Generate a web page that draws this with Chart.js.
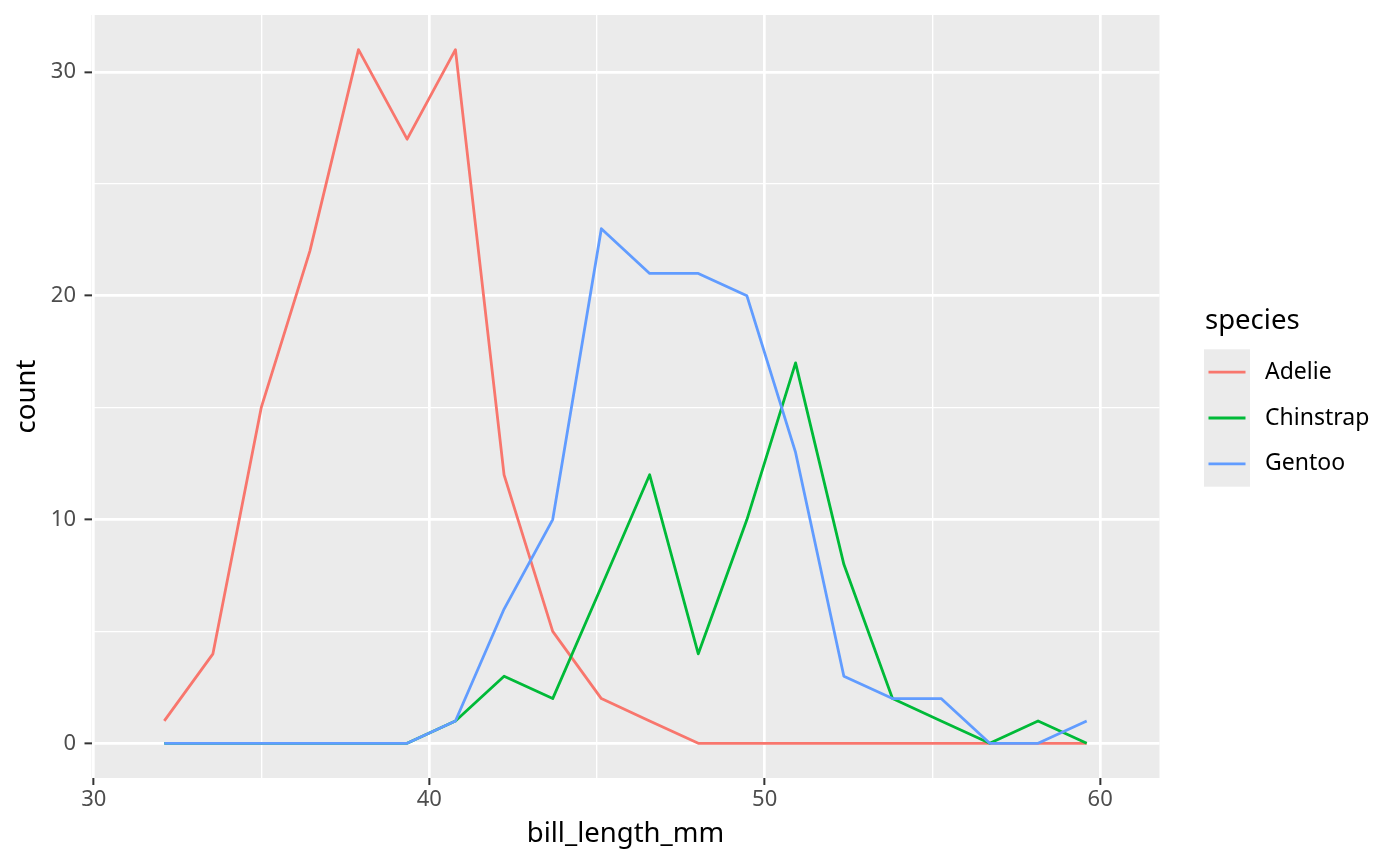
<!DOCTYPE html>
<html>
<head>
<meta charset="utf-8">
<script src="https://cdn.jsdelivr.net/npm/chart.js@4"></script>
<style>
  html, body { margin: 0; padding: 0; background: #ffffff; }
  canvas { display: block; }
</style>
</head>
<body>
<canvas id="chart" width="1400" height="866"></canvas>
<script>
// bin centres (bill_length_mm) and counts per species
const binCenters = [32.1, 33.55, 34.99, 36.44, 37.89, 39.34, 40.78, 42.23, 43.68, 45.13,
                    46.57, 48.02, 49.47, 50.92, 52.36, 53.81, 55.26, 56.71, 58.15, 59.6];
const adelie    = [1, 4, 15, 22, 31, 27, 31, 12, 5, 2, 1, 0, 0, 0, 0, 0, 0, 0, 0, 0];
const chinstrap = [0, 0, 0, 0, 0, 0, 1, 3, 2, 7, 12, 4, 10, 17, 8, 2, 1, 0, 1, 0];
const gentoo    = [0, 0, 0, 0, 0, 0, 1, 6, 10, 23, 21, 21, 20, 13, 3, 2, 2, 0, 0, 1];

const species = ["Adelie", "Chinstrap", "Gentoo"];
const speciesColors = ["#F8766D", "#00BA38", "#619CFF"];

const xMajor = [30, 40, 50, 60];
const xMinor = [35, 45, 55];
const yMajor = [0, 10, 20, 30];
const yMinor = [5, 15, 25];

const FONT = "'Noto Sans', 'DejaVu Sans', sans-serif";

const toPoints = (vals) => binCenters.map((x, i) => ({ x: x, y: vals[i] }));

const panelBg = {
  id: "panelBg",
  beforeDraw(chart) {
    const { ctx, chartArea: a } = chart;
    ctx.save();
    ctx.fillStyle = "#EBEBEB";
    ctx.fillRect(a.left, a.top, a.right - a.left, a.bottom - a.top);
    ctx.restore();
  }
};

const ggLegend = {
  id: "ggLegend",
  afterDraw(chart) {
    const ctx = chart.ctx;
    const sets = chart.data.datasets;
    const keyX = 1204, keyTop = 349.3, keyW = 46, keyH = 45.8;
    ctx.save();
    ctx.fillStyle = "#000000";
    ctx.font = "27.5px " + FONT;
    ctx.textAlign = "left";
    ctx.textBaseline = "alphabetic";
    ctx.fillText("species", 1205, 329);

    ctx.fillStyle = "#EBEBEB";
    ctx.fillRect(keyX, keyTop, keyW, keyH * sets.length);

    sets.forEach((ds, i) => {
      const cy = keyTop + keyH * i + keyH / 2;
      ctx.strokeStyle = ds.borderColor;
      ctx.lineWidth = 2.8;
      ctx.beginPath();
      ctx.moveTo(keyX + 4.5, cy);
      ctx.lineTo(keyX + keyW - 4.5, cy);
      ctx.stroke();
      ctx.fillStyle = "#000000";
      ctx.font = "23px " + FONT;
      ctx.textBaseline = "middle";
      ctx.fillText(ds.label, 1265, cy);
    });
    ctx.restore();
  }
};

const gridWidth = (ctx) => ctx.tick && ctx.tick.major ? 2.7 : 1.35;
const tickColor = (ctx) => ctx.tick && ctx.tick.major ? "#333333" : "rgba(0,0,0,0)";

const setTicks = (major, minor) => (scale) => {
  const all = major.map(v => ({ value: v, major: true }))
    .concat(minor.map(v => ({ value: v, major: false })));
  all.sort((a, b) => a.value - b.value);
  scale.ticks = all;
};

new Chart(document.getElementById("chart"), {
  type: "line",
  data: {
    datasets: [
      { label: species[0], data: toPoints(adelie), borderColor: speciesColors[0], order: 3 },
      { label: species[1], data: toPoints(chinstrap), borderColor: speciesColors[1], order: 2 },
      { label: species[2], data: toPoints(gentoo), borderColor: speciesColors[2], order: 1 }
    ].map(d => Object.assign(d, {
      borderWidth: 2.8,
      pointRadius: 0,
      tension: 0,
      fill: false,
      borderJoinStyle: "round",
      borderCapStyle: "butt"
    }))
  },
  options: {
    responsive: false,
    animation: false,
    devicePixelRatio: 1,
    layout: { padding: { left: 0, top: 15, right: 240.5, bottom: 0 } },
    plugins: {
      legend: { display: false },
      tooltip: { enabled: false }
    },
    scales: {
      x: {
        type: "linear",
        min: 29.93,
        max: 61.77,
        afterBuildTicks: setTicks(xMajor, xMinor),
        afterFit: (s) => { s.height = 88; s.paddingLeft = 0; s.paddingRight = 0; },
        border: { display: false },
        grid: {
          color: "#FFFFFF",
          lineWidth: gridWidth,
          tickColor: tickColor,
          tickWidth: 2,
          tickLength: 7
        },
        ticks: {
          padding: 2,
          color: "#4D4D4D",
          font: { family: FONT, size: 22, lineHeight: 1.2 },
          maxRotation: 0,
          autoSkip: false,
          callback: (v) => xMajor.includes(v) ? String(v) : ""
        },
        title: {
          display: true,
          text: "bill_length_mm",
          color: "#000000",
          font: { family: FONT, size: 27.5, lineHeight: 1.2 },
          padding: { top: 0, bottom: 15 }
        }
      },
      y: {
        type: "linear",
        min: -1.55,
        max: 32.55,
        afterBuildTicks: setTicks(yMajor, yMinor),
        afterFit: (s) => { s.width = 91.5; s.paddingTop = 0; s.paddingBottom = 0; },
        border: { display: false },
        grid: {
          color: "#FFFFFF",
          lineWidth: gridWidth,
          tickColor: tickColor,
          tickWidth: 2,
          tickLength: 7
        },
        ticks: {
          padding: 8.5,
          color: "#4D4D4D",
          font: { family: FONT, size: 22, lineHeight: 1.2 },
          autoSkip: false,
          callback: (v) => yMajor.includes(v) ? String(v) : ""
        },
        title: {
          display: true,
          text: "count",
          color: "#000000",
          font: { family: FONT, size: 27.5, lineHeight: 1.2 },
          padding: { top: 11, bottom: 0 }
        }
      }
    }
  },
  plugins: [panelBg, ggLegend]
});
</script>
</body>
</html>
